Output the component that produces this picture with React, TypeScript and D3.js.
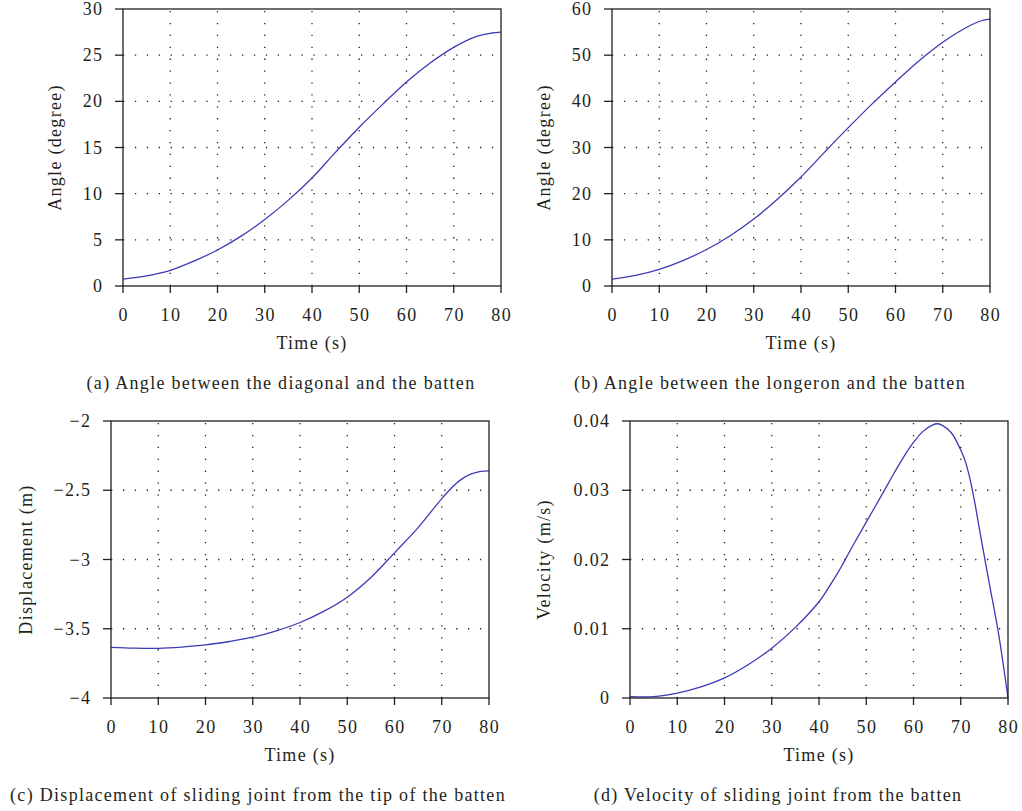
import React from 'react';
import * as d3 from 'd3';

// time samples (s)
const timeA = [0, 5, 10, 15, 20, 25, 30, 35, 40, 45, 50, 55, 60, 65, 70, 75, 78, 80];
const timeC = [0, 5, 10, 15, 20, 25, 30, 35, 40, 45, 50, 55, 60, 65, 70, 72, 74, 76, 78, 80];
const timeD = [0, 5, 10, 15, 20, 25, 30, 35, 40, 42, 44, 45, 47, 50, 53.6, 56, 58, 60, 62, 64, 65, 66, 68, 70, 71, 72, 73, 74, 76, 78, 80];

// (a) angle between diagonal and batten (degree)
const angleDiag = [0.75, 1.1, 1.7, 2.7, 3.9, 5.4, 7.2, 9.3, 11.7, 14.5, 17.2, 19.7, 22.1, 24.15, 25.85, 27.05, 27.4, 27.5];
// (b) angle between longeron and batten (degree)
const angleLong = [1.5, 2.3, 3.6, 5.5, 7.9, 10.9, 14.5, 18.8, 23.6, 29.0, 34.3, 39.4, 44.2, 48.8, 52.8, 56.0, 57.4, 57.8];
// (c) displacement of sliding joint (m)
const displacement = [-3.634, -3.64, -3.641, -3.632, -3.617, -3.592, -3.561, -3.515, -3.455, -3.375, -3.272, -3.13, -2.952, -2.77, -2.56, -2.485, -2.425, -2.386, -2.366, -2.36];
// (d) velocity of sliding joint (m/s)
const velocity = [0.0002, 0.0002, 0.0007, 0.0016, 0.0029, 0.0048, 0.0072, 0.0102, 0.0139, 0.0159, 0.0181, 0.0193, 0.0218, 0.0254, 0.0297, 0.0326, 0.0349, 0.0369, 0.0385, 0.0394, 0.0396, 0.0394, 0.0383, 0.0358, 0.0341, 0.0315, 0.0281, 0.0242, 0.0167, 0.0093, 0];

const xTicks = [0, 10, 20, 30, 40, 50, 60, 70, 80];
const yTicksA = [0, 5, 10, 15, 20, 25, 30];
const yTicksB = [0, 10, 20, 30, 40, 50, 60];
const yTicksC = [-4, -3.5, -3, -2.5, -2];
const yTicksD = [0, 0.01, 0.02, 0.03, 0.04];

const xLabel = 'Time (s)';

const panels = [
  { left: 123, top: 9, time: timeA, values: angleDiag, yTicks: yTicksA, yLabel: 'Angle (degree)', yLabelOff: 62, captionOff: 158, caption: '(a) Angle between the diagonal and the batten' },
  { left: 612, top: 9, time: timeA, values: angleLong, yTicks: yTicksB, yLabel: 'Angle (degree)', yLabelOff: 62, captionOff: 158, caption: '(b) Angle between the longeron and the batten' },
  { left: 111, top: 421, time: timeC, values: displacement, yTicks: yTicksC, yLabel: 'Displacement (m)', yLabelOff: 79, captionOff: 147, caption: '(c) Displacement of sliding joint from the tip of the batten' },
  { left: 630, top: 421, time: timeD, values: velocity, yTicks: yTicksD, yLabel: 'Velocity (m/s)', yLabelOff: 80, captionOff: 148, caption: '(d) Velocity of sliding joint from the batten' },
];

const W = 378;
const H = 277;
const font = '"Liberation Serif", "Times New Roman", serif';
const fs = 18;
const ls = 1.3;
const fmt = d3.format('~g');

const Panel = ({ p }) => {
  const x = d3.scaleLinear().domain([0, 80]).range([0, W]);
  const y = d3.scaleLinear().domain(d3.extent(p.yTicks)).range([H, 0]);
  const line = d3.line()
    .x((d, i) => x(p.time[i]))
    .y(d => y(d))
    .curve(d3.curveCatmullRom.alpha(0.5));

  return (
    <g transform={`translate(${p.left},${p.top})`} fontFamily={font} fill="#231f20" letterSpacing={ls}>
      {/* grid */}
      {xTicks.slice(1, -1).map(t => (
        <line key={'gx' + t} x1={x(t)} x2={x(t)} y1={H} y2={0}
          stroke="#222" strokeWidth={1.3} strokeDasharray="1.3 10.6" />
      ))}
      {p.yTicks.slice(1, -1).map(t => (
        <line key={'gy' + t} x1={0} x2={W} y1={y(t)} y2={y(t)}
          stroke="#222" strokeWidth={1.3} strokeDasharray="1.3 10.6" />
      ))}
      {/* data */}
      <path d={line(p.values)} fill="none" stroke="#3b3bb5" strokeWidth={1.3} />
      {/* frame */}
      <rect x={0} y={0} width={W} height={H} fill="none" stroke="#231f20" strokeWidth={1.3} />
      {/* ticks */}
      {xTicks.map(t => (
        <g key={'tx' + t}>
          <line x1={x(t)} x2={x(t)} y1={H} y2={H + 7} stroke="#231f20" strokeWidth={1.3} />
          <text x={x(t) + ls / 2} y={H + 35} textAnchor="middle" fontSize={fs}>{fmt(t)}</text>
        </g>
      ))}
      {p.yTicks.map(t => (
        <g key={'ty' + t}>
          <line x1={-8} x2={0} y1={y(t)} y2={y(t)} stroke="#231f20" strokeWidth={1.3} />
          <text x={-21 + ls} y={y(t) + 6} textAnchor="end" fontSize={fs}>{fmt(t)}</text>
        </g>
      ))}
      <text x={W / 2} y={H + 63} textAnchor="middle" fontSize={fs}>{xLabel}</text>
      <text transform={`translate(${-p.yLabelOff},${H / 2}) rotate(-90)`} textAnchor="middle" fontSize={fs}>{p.yLabel}</text>
      <text x={p.captionOff} y={H + 103} textAnchor="middle" fontSize={fs}>{p.caption}</text>
    </g>
  );
};

const App = () => (
  <svg width={1022} height={811} style={{ position: 'absolute', left: 0, top: 0, background: '#fff' }}>
    {panels.map((p, i) => <Panel key={i} p={p} />)}
  </svg>
);

export default App;
